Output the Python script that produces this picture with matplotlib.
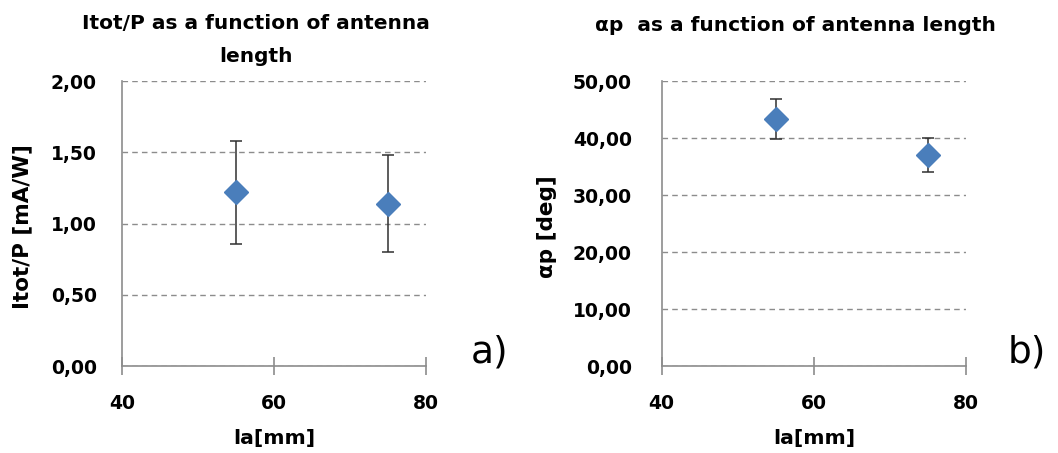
import matplotlib
matplotlib.use("Agg")
import matplotlib.pyplot as plt
from matplotlib.ticker import FuncFormatter, MultipleLocator

plt.rcParams['font.family'] = ['DejaVu Sans']

# antenna length [mm]
antenna_length = [55, 75]

# panel a: total current per power [mA/W]
itot_p = [1.22, 1.14]
itot_p_err = [0.36, 0.34]

# panel b: alpha_p [deg]
alpha_p = [43.4, 37.1]
alpha_p_err = [3.5, 3.0]

panels = [
    dict(rect=[0.1153, 0.192, 0.2873, 0.629], y=itot_p, err=itot_p_err,
         ylim=(0, 2.0), step=0.5, ypad=18, ylabel_x=-0.296,
         title="Itot/P as a function of antenna\nlength", ylabel="Itot/P [mA/W]",
         tag="a)", title_x=256 / 1058, title_y=1 - 14 / 453, tag_x=490 / 1058),
    dict(rect=[0.6254, 0.192, 0.2876, 0.629], y=alpha_p, err=alpha_p_err,
         ylim=(0, 50.0), step=10, ypad=21.5, ylabel_x=-0.344,
         title="\u03b1p  as a function of antenna length", ylabel="\u03b1p [deg]",
         tag="b)", title_x=795 / 1058, title_y=1 - 16 / 453, tag_x=1027 / 1058),
]

fig = plt.figure(figsize=(10.58, 4.53), dpi=100)
grey = "#8c8c8c"
blue = "#4a7ebb"

for p in panels:
    ax = fig.add_axes(p["rect"])
    ax.set_xlim(40, 80)
    ax.set_ylim(*p["ylim"])
    ax.xaxis.set_major_locator(MultipleLocator(20))
    ax.yaxis.set_major_locator(MultipleLocator(p["step"]))
    ax.yaxis.set_major_formatter(FuncFormatter(lambda v, _: f"{v:.2f}".replace(".", ",")))
    ax.grid(axis="y", color=grey, linestyle=(0, (4, 3)), linewidth=1.0)
    ax.set_axisbelow(True)
    for s in ("top", "right"):
        ax.spines[s].set_visible(False)
    for s in ("left", "bottom"):
        ax.spines[s].set_color(grey)
        ax.spines[s].set_linewidth(1.2)
    ax.tick_params(axis="x", direction="inout", length=13, width=1.2, color=grey,
                   labelsize=13.5, pad=14)
    ax.tick_params(axis="y", length=0, labelsize=13.5, pad=p["ypad"])
    for lab in ax.get_xticklabels() + ax.get_yticklabels():
        lab.set_fontweight("bold")

    ax.errorbar(antenna_length, p["y"], yerr=p["err"], fmt="none",
                ecolor="#303030", elinewidth=1.1, capsize=4.5, capthick=1.1, zorder=2)
    ax.plot(antenna_length, p["y"], linestyle="none", marker="D", markersize=12,
            color=blue, markeredgecolor=blue, zorder=3)

    ax.set_xlabel("la[mm]", fontsize=14.7, fontweight="bold")
    ax.xaxis.set_label_coords(0.5, -0.221)
    ax.set_ylabel(p["ylabel"], fontsize=15.5, fontweight="bold")
    ax.yaxis.set_label_coords(p["ylabel_x"], 0.488)
    fig.text(p["title_x"], p["title_y"], p["title"], ha="center", va="top",
             fontsize=14.5, fontweight="bold", linespacing=1.9)
    fig.text(p["tag_x"], 1 - 353 / 453, p["tag"], ha="center", va="center",
             fontsize=27)

fig.savefig("out.png", dpi=100)
